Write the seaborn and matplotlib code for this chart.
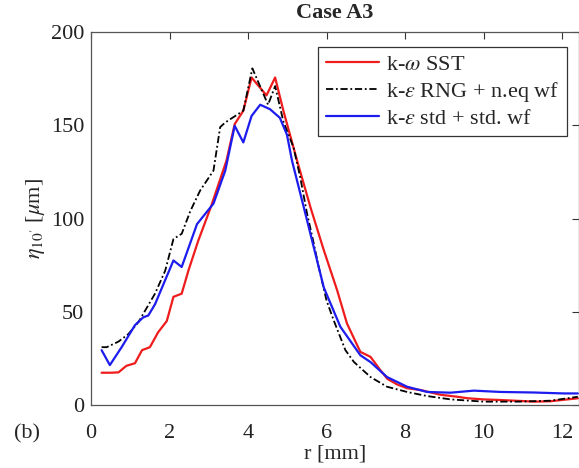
import numpy as np
import pandas as pd
import matplotlib
matplotlib.use("Agg")
import matplotlib.pyplot as plt
import seaborn as sns

# k-omega SST
sst_r = [0.27, 0.5, 0.7, 0.9, 1.12, 1.3, 1.5, 1.71, 1.93, 2.1, 2.31, 2.48, 2.73, 3.05, 3.45,
         3.66, 3.88, 4.09, 4.47, 4.69, 4.9, 5.25, 5.59, 5.93, 6.27, 6.52, 6.86, 7.12, 7.37,
         7.55, 7.8, 8.05, 8.4, 8.9, 9.3, 9.6, 10.0, 10.4, 10.8, 11.3, 11.7, 12.0, 12.4]
sst_eta = [17.3, 17.3, 17.5, 21, 22.4, 29.4, 31, 39, 45, 58, 59.7, 72, 88, 106, 131,
           150.6, 157.8, 175.6, 166, 175.6, 157.8, 131, 106, 83, 61.5, 43.7, 28.5, 25.8, 18.7,
           14, 11, 9, 8, 5.5, 4.5, 3.6, 3, 2.7, 2.3, 1.8, 2, 2.7, 3.6]

# k-eps RNG + n.eq wf
rng_r = [0.27, 0.4, 0.7, 0.95, 1.21, 1.63, 1.89, 2.1, 2.31, 2.53, 2.78, 3.12, 3.29, 3.42,
         3.88, 4.11, 4.51, 4.69, 4.9, 5.16, 5.33, 5.5, 5.67, 5.8, 6.0, 6.18, 6.48, 6.7,
         7.12, 7.54, 8.05, 8.56, 9.16, 10.0, 10.86, 11.7, 12.4]
rng_eta = [31, 31, 34, 38, 44.5, 59.7, 72, 89, 91.8, 104, 115, 125.7, 149, 151.5,
           157.8, 180.5, 161, 171, 152, 138, 122, 103, 87, 74, 56, 45.5, 29.4, 23,
           15, 9.8, 7, 4.8, 3, 1.8, 1.8, 2.3, 4.4]

# k-eps std + std. wf
std_r = [0.27, 0.48, 0.78, 1.12, 1.33, 1.46, 1.63, 2.1, 2.31, 2.7, 3.12, 3.42, 3.66, 3.88,
         4.09, 4.31, 4.56, 4.81, 4.99, 5.12, 5.42, 5.93, 6.35, 6.86, 7.12, 7.54, 8.05, 8.56,
         9.16, 9.75, 10.43, 11.28, 12.04, 12.4]
std_eta = [29.4, 21.4, 31, 42.8, 47, 48, 54, 77.5, 74, 97, 108, 125.7, 149.7, 140.8,
           155, 161, 158.6, 154, 145, 131, 106, 63, 42, 26.7, 23, 15, 9.8, 7,
           6.6, 7.7, 7, 6.7, 6.2, 6.2]

labels = [r"k-$\omega$ SST", r"k-$\epsilon$ RNG + n.eq wf", r"k-$\epsilon$ std + std. wf"]
x_ticks = [0, 2, 4, 6, 8, 10, 12]
y_ticks = [0, 50, 100, 150, 200]

sns.set_theme(style="white")
plt.rcParams["font.family"] = ["Liberation Serif", "DejaVu Serif"]
plt.rcParams["mathtext.fontset"] = "stix"

FS = 16
fig = plt.figure(figsize=(5.79, 4.68), dpi=100)
ax = fig.add_axes([91/579, (468-405)/468, (579-91)/579, (405-32)/468])

sns.lineplot(x=sst_r, y=sst_eta, ax=ax, color="#ee1c1c", lw=1.6, label=labels[0],
             estimator=None, sort=False)
sns.lineplot(x=rng_r, y=rng_eta, ax=ax, color="black", lw=1.3, label=labels[1],
             estimator=None, sort=False, linestyle=(0, (4, 1.5, 1, 1.5)))
sns.lineplot(x=std_r, y=std_eta, ax=ax, color="#1c1cee", lw=1.6, label=labels[2],
             estimator=None, sort=False)

ax.set_xlim(0, 12.43)
ax.set_ylim(0, 200)
ax.set_xticks(x_ticks)
ax.set_yticks(y_ticks)
ax.tick_params(axis="both", direction="in", length=5, width=0.8, color="#333333",
               top=True, right=True, labelsize=FS, labelcolor="#222222")
ax.tick_params(axis="x", pad=14)
ax.tick_params(axis="y", pad=5)
for s in ax.spines.values():
    s.set_color("#555555")
    s.set_linewidth(0.9)

ax.set_title("Case A3", fontsize=FS, fontweight="bold", pad=10)
ax.set_xlabel("r [mm]", fontsize=FS, labelpad=1)
ax.set_ylabel(r"$\eta_{10'}$ [$\mu$m]", fontsize=FS, labelpad=3)

leg = ax.legend(loc="upper right", bbox_to_anchor=(0.975, 0.96), fontsize=FS,
                frameon=True, fancybox=False, framealpha=1, edgecolor="#333333",
                handlelength=2.4, handletextpad=0.3, labelspacing=0.2,
                borderpad=0.35, borderaxespad=0)
leg.get_frame().set_linewidth(0.9)

fig.text(27/579, 1 - 434/468, "(b)", fontsize=FS, ha="center", va="center")

fig.savefig("out.png", dpi=100)
